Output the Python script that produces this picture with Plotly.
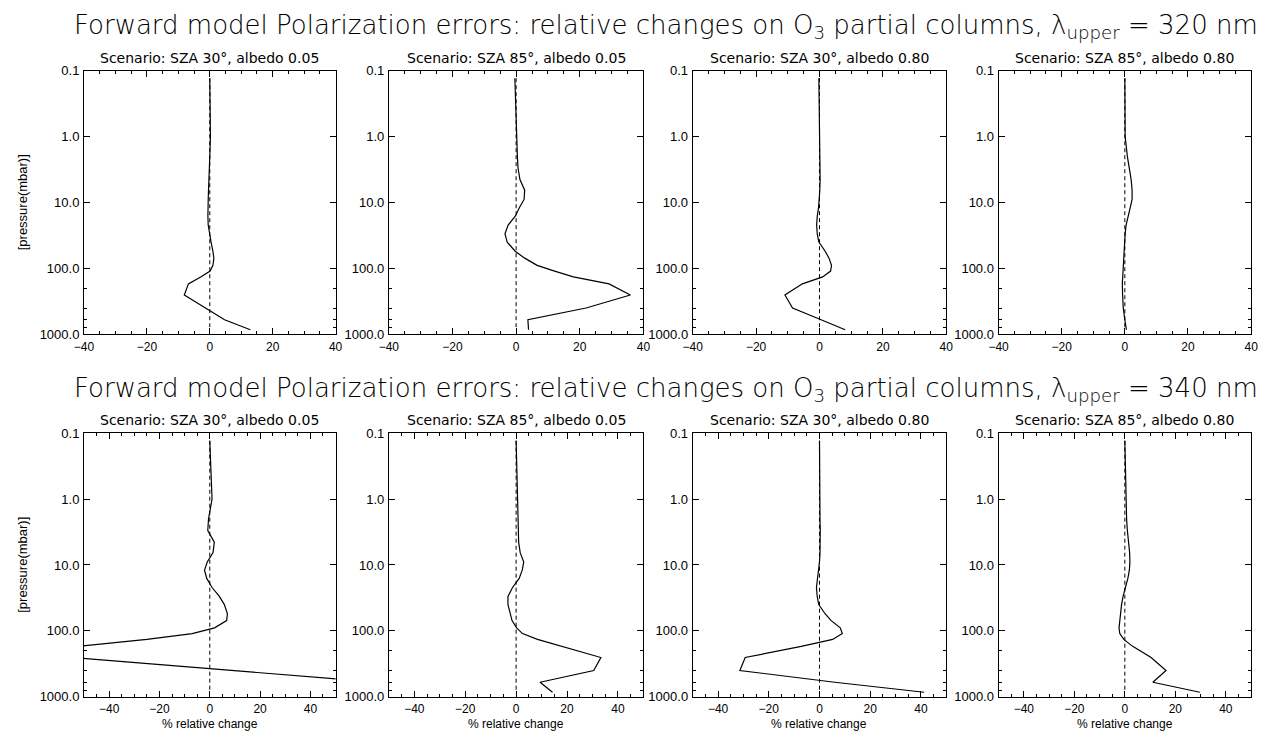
import plotly.graph_objects as go

# Pressure levels of the retrieval grid (mbar)
pressure = [0.13, 0.3, 1.0, 2.0, 3.0, 4.5, 6.5, 9, 12, 16, 22, 30, 40, 55,
            70, 90, 110, 135, 172, 254, 400, 603, 855]

# Relative change (%) on O3 partial columns, lambda_upper = 320 nm
t320_sza30_alb005 = [0.0, 0.05, 0.2, 0.0, -0.2, -0.3, -0.4, -0.5, -0.6, -0.6, -0.5, -0.1,
                     0.4, 1.0, 1.3, 1.0, 0.1, -2.9, -6.8, -8.1, -1.2, 4.7, 12.9]
t320_sza85_alb005 = [-0.4, -0.2, 0.2, 0.4, 0.6, 1.2, 2.7, 2.5, 1.0, -0.2, -2.5, -3.5,
                     -2.8, -0.3, 2.7, 6.6, 12.1, 18.0, 29.2, 35.9, 22.0, 3.7, 3.9]
t320_sza30_alb080 = [-0.2, -0.1, 0.1, 0.2, 0.3, 0.2, 0.1, 0.0, -0.3, -0.7, -0.9, -0.7,
                     -0.2, 1.8, 3.0, 3.8, 3.5, 1.0, -5.4, -10.9, -8.5, 0.5, 8.1]
t320_sza85_alb080 = [0.0, 0.0, 0.1, 0.8, 1.4, 2.0, 2.3, 2.3, 1.7, 1.0, 0.4, 0.1,
                     -0.05, -0.2, -0.3, -0.5, -0.6, -0.7, -0.8, -0.7, -0.5, 0.0, 0.5]

# Relative change (%) on O3 partial columns, lambda_upper = 340 nm
t340_sza30_alb005 = [0.0, 0.35, 0.9, -0.5, -0.8, 1.8, 1.3, -1.0, -2.1, -1.2, 0.9, 3.8,
                     5.8, 7.0, 6.7, 1.9, -7.0, -25.0, -52.0, -55.0, 9.0, 67.0, 116.0]
t340_sza85_alb005 = [0.0, 0.2, 0.6, 0.8, 0.9, 1.0, 1.6, 3.0, 2.4, 1.2, -1.4, -3.2,
                     -3.2, -2.4, -1.6, 0.2, 2.5, 8.4, 17.6, 33.3, 30.5, 9.4, 14.3]
t340_sza30_alb080 = [0.0, 0.0, 0.1, 0.2, 0.3, 0.4, 0.2, 0.0, -0.4, -0.8, -1.2, -0.9,
                     -0.3, 2.2, 4.6, 8.2, 9.0, 5.2, -7.2, -29.3, -31.4, 6.0, 41.3]
t340_sza85_alb080 = [0.0, 0.2, 0.4, 0.7, 1.0, 1.5, 1.9, 2.0, 1.8, 1.2, 0.1, -0.7,
                     -1.3, -1.8, -2.1, -2.3, -2.0, -0.4, 3.1, 10.4, 16.3, 11.1, 29.7]

scenarios = ["Scenario: SZA 30°, albedo 0.05", "Scenario: SZA 85°, albedo 0.05",
             "Scenario: SZA 30°, albedo 0.80", "Scenario: SZA 85°, albedo 0.80"]
rows = [
    {"wl": "320", "series": [t320_sza30_alb005, t320_sza85_alb005,
                             t320_sza30_alb080, t320_sza85_alb080],
     "xrange": [-40, 40]},
    {"wl": "340", "series": [t340_sza30_alb005, t340_sza85_alb005,
                             t340_sza30_alb080, t340_sza85_alb080],
     "xrange": [-50, 50]},
]
xtick_vals = [-40, -20, 0, 20, 40]
ytick_vals = [0.1, 1.0, 10.0, 100.0, 1000.0]
ytick_text = ["0.1", "1.0", "10.0", "100.0", "1000.0"]

W, H = 1267, 740
col_px = [(75, 330), (384, 642), (692, 949), (1002, 1258)]
row_px = [(65, 334), (435, 704)]


def fx(x):
    return x / W


def fy(y):
    return 1 - y / H


TITLE_FONT = "DejaVu Sans"
TICK_FONT = "Liberation Sans"

fig = go.Figure()
annotations = []
k = 0
for r, row in enumerate(rows):
    y0, y1 = row_px[r]
    for c in range(4):
        k += 1
        xa = "x" if k == 1 else f"x{k}"
        ya = "y" if k == 1 else f"y{k}"
        x0, x1 = col_px[c]
        # zero reference line
        fig.add_trace(go.Scatter(
            x=[0.0] * len(pressure), y=pressure, mode="lines",
            line=dict(color="black", width=1, dash="4px,3px"),
            xaxis=xa, yaxis=ya, showlegend=False, hoverinfo="skip"))
        fig.add_trace(go.Scatter(
            x=row["series"][c], y=pressure, mode="lines",
            line=dict(color="black", width=1.2),
            xaxis=xa, yaxis=ya, showlegend=False))
        common = dict(showline=True, linecolor="black", linewidth=1, mirror="allticks",
                      ticks="inside", tickcolor="black", showgrid=False, zeroline=False)
        fig.layout[f"xaxis{'' if k == 1 else k}"] = dict(
            domain=[fx(x0), fx(x1)], anchor=ya, range=row["xrange"],
            tickvals=xtick_vals, ticklen=6, ticklabelstandoff=1,
            tickfont=dict(family=TICK_FONT, size=12, color="black"),
            minor=dict(ticks="inside", ticklen=3, dtick=5, tickcolor="black", showgrid=False),
            **common)
        fig.layout[f"yaxis{'' if k == 1 else k}"] = dict(
            domain=[fy(y1), fy(y0)], anchor=xa, type="log", range=[3, -1],
            tickvals=ytick_vals, ticktext=ytick_text, ticklen=6, ticklabelstandoff=1,
            tickfont=dict(family=TICK_FONT, size=13, color="black"),
            minor=dict(ticks="inside", ticklen=3, tickcolor="black", showgrid=False),
            **common)
        annotations.append(dict(
            text=scenarios[c], x=fx((x0 + x1) / 2), y=fy(y0 - 13), xref="paper", yref="paper",
            xanchor="center", yanchor="middle", showarrow=False,
            font=dict(family=TITLE_FONT, size=14, color="black")))
        if r == 1:
            annotations.append(dict(
                text="% relative change", x=fx((x0 + x1) / 2), y=fy(732), xref="paper",
                yref="paper", xanchor="center", yanchor="middle", showarrow=False,
                font=dict(family=TICK_FONT, size=12, color="black")))
    annotations.append(dict(
        text=("Forward model Polarization errors: relative changes on O<sub>3</sub> partial "
              f"columns, λ<sub>upper</sub> = {row['wl']} nm"),
        x=fx(665), y=fy(y0 - 45), xref="paper", yref="paper", xanchor="center",
        yanchor="middle", showarrow=False,
        font=dict(family=TITLE_FONT, size=26, color="black", weight=200)))
    annotations.append(dict(
        text="[pressure(mbar)]", x=fx(13), y=fy((y0 + y1) / 2), xref="paper", yref="paper",
        xanchor="center", yanchor="middle", textangle=-90, showarrow=False,
        font=dict(family=TICK_FONT, size=13, color="black")))

fig.update_layout(width=W, height=H, margin=dict(l=0, r=0, t=0, b=0),
                  paper_bgcolor="white", plot_bgcolor="white",
                  annotations=annotations)
fig.write_html("out.html")
